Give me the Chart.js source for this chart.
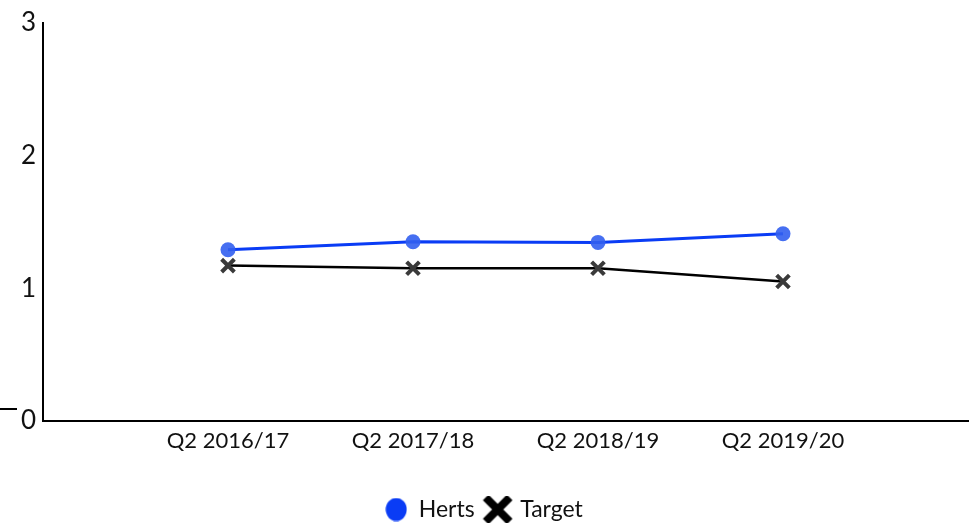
<!DOCTYPE html>
<html><head><meta charset="utf-8">
<script src="https://cdn.jsdelivr.net/npm/chart.js@4.4.0/dist/chart.umd.min.js"></script>
<style>html,body{margin:0;padding:0;background:#fff}#wrap{width:969px;height:523px}</style>
</head><body><div id="wrap"><canvas id="c" width="969" height="523"></canvas></div>
<script>
const categories = ['', 'Q2 2016/17', 'Q2 2017/18', 'Q2 2018/19', 'Q2 2019/20', ''];
const hertsValues = [null, 1.29, 1.35, 1.345, 1.41, null];
const targetValues = [null, 1.17, 1.15, 1.15, 1.05, null];
const yTicks = [0, 1, 2, 3];
const seriesNames = ['Herts', 'Target'];

function makeIcon(kind){
  const c = document.createElement('canvas');
  if (kind === 'circle'){
    c.width = 22; c.height = 24;
    const g = c.getContext('2d');
    g.fillStyle = '#0a3cf5';
    g.beginPath(); g.ellipse(11, 12, 10.5, 11.5, 0, 0, Math.PI*2); g.fill();
  } else {
    c.width = 36; c.height = 28;
    const g = c.getContext('2d');
    g.strokeStyle = '#000'; g.lineWidth = 8; g.lineCap = 'butt';
    g.beginPath(); g.moveTo(6,2); g.lineTo(30,26); g.moveTo(30,2); g.lineTo(6,26); g.stroke();
  }
  return c;
}
const icons = [makeIcon('circle'), makeIcon('cross')];

const stray = {
  id: 'stray',
  afterDraw(chart){
    const ctx = chart.ctx;
    ctx.save(); ctx.strokeStyle = '#000'; ctx.lineWidth = 2;
    ctx.beginPath(); ctx.moveTo(0, 409); ctx.lineTo(17, 409); ctx.stroke();
    ctx.restore();
  }
};

new Chart(document.getElementById('c'), {
  type: 'line',
  data: {
    labels: categories,
    datasets: [
      {label: seriesNames[0], data: hertsValues, borderColor: '#0a3cf5', borderWidth: 3,
       pointStyle: 'circle', pointRadius: 7.5, pointBackgroundColor: 'rgba(50,95,240,0.9)', pointBorderWidth: 0},
      {label: seriesNames[1], data: targetValues, borderColor: '#000', borderWidth: 2.5,
       pointStyle: 'crossRot', pointRadius: 9, pointBorderColor: '#3a3a3a', pointBorderWidth: 4}
    ]
  },
  options: {
    responsive: false, animation: false,
    layout: {autoPadding: false, padding: {top: 21, right: 1, left: 0, bottom: -8}},
    plugins: {
      tooltip: {enabled: false},
      legend: {
        position: 'bottom',
        labels: {
          font: {family: 'Lato', size: 23}, color: '#111',
          usePointStyle: true, pointStyleWidth: 22, boxHeight: 23, padding: 12,
          generateLabels(chart){
            return chart.data.datasets.map((d, i) => ({
              text: d.label, pointStyle: icons[i], datasetIndex: i,
              fillStyle: 'transparent', strokeStyle: 'transparent', lineWidth: 0, fontColor: '#111'
            }));
          }
        }
      }
    },
    scales: {
      x: {
        afterFit(s){ s.height = 65; s.paddingRight = 0; s.paddingLeft = 0; },
        grid: {display: false, drawTicks: true, tickLength: 7, tickColor: 'rgba(0,0,0,0)'},
        border: {display: true, color: '#000', width: 2},
        ticks: {font: {family: 'Lato', size: 22}, color: '#111', padding: 0, maxRotation: 0, autoSkip: false}
      },
      y: {
        min: 0, max: 3,
        afterFit(s){ s.width = 43; },
        afterBuildTicks(s){ s.ticks = yTicks.map(v => ({value: v})); },
        grid: {display: false, drawTicks: false},
        border: {display: true, color: '#000', width: 2},
        ticks: {font: {family: 'Lato', size: 26}, color: '#111', padding: 7}
      }
    }
  },
  plugins: [stray]
});
</script></body></html>
